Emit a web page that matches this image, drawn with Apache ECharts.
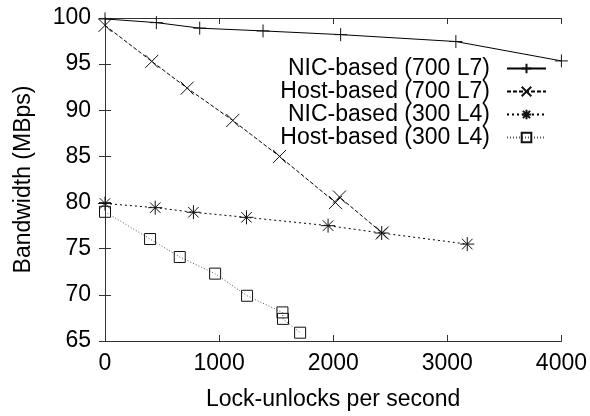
<!DOCTYPE html>
<html>
<head>
<meta charset="utf-8">
<script src="https://cdn.jsdelivr.net/npm/echarts@6/dist/echarts.min.js"></script>
<style>
  html, body { margin: 0; padding: 0; background: #fff; }
  #main { width: 590px; height: 416px; }
</style>
</head>
<body>
<div id="main"></div>
<script>
// series names
var names = ['NIC-based (700 L7)', 'Host-based (700 L7)', 'NIC-based (300 L4)', 'Host-based (300 L4)'];

// values: [lock-unlocks per second, MBps]
var nic700 = [[0, 99.9], [450, 99.5], [830, 98.9], [1385, 98.6], [2065, 98.2], [3075, 97.45], [4000, 95.35]];
var host700 = [[0, 99.2], [410, 95.3], [720, 92.4], [1120, 88.9], [1530, 85.0], [2020, 80.0], [2055, 80.6], [2430, 76.7]];
var nic300 = [[0, 79.9], [440, 79.45], [775, 78.95], [1240, 78.4], [1955, 77.5], [2425, 76.7], [3175, 75.5]];
var host300 = [[0, 79.0], [395, 76.05], [655, 74.1], [965, 72.3], [1245, 69.9], [1555, 68.1], [1560, 67.4], [1710, 65.9]];

var xTicks = { min: 0, max: 4000, step: 1000 };
var yTicks = { min: 65, max: 100, step: 5 };

var FONT = 'Liberation Sans';
var FS = 23;

var chart = echarts.init(document.getElementById('main'));

function mkSeries(name, data, symbol, size, lineType, color, fill) {
  return {
    name: name,
    type: 'line',
    data: data,
    symbol: symbol,
    symbolSize: size,
    clip: false,
    animation: false,
    lineStyle: { color: color, width: 1, type: lineType },
    itemStyle: { color: fill, borderColor: '#111', borderWidth: 1 }
  };
}

var axisCommon = {
  type: 'value',
  axisLine: { show: true, lineStyle: { color: '#333', width: 1 } },
  axisTick: { show: true, inside: true, length: 6, lineStyle: { color: '#333' } },
  splitLine: { show: false }
};

var option = {
  backgroundColor: '#fff',
  textStyle: { fontFamily: FONT },
  grid: { left: 105, right: 24, top: 18, bottom: 72, containLabel: false },
  legend: {
    orient: 'vertical',
    right: 38,
    top: 52,
    align: 'right',
    itemWidth: 39,
    itemHeight: 12,
    itemGap: 0,
    textStyle: { fontFamily: FONT, fontSize: FS, color: '#000', padding: [0, 12, 0, 0] },
    data: names
  },
  xAxis: [
    Object.assign({}, axisCommon, {
      min: xTicks.min, max: xTicks.max, interval: xTicks.step,
      name: 'Lock-unlocks per second',
      nameLocation: 'middle',
      nameGap: 47,
      nameTextStyle: { fontFamily: FONT, fontSize: FS, color: '#000' },
      axisLabel: { fontFamily: FONT, fontSize: FS, color: '#000', margin: 11,
        formatter: function (v) { return String(v); } }
    }),
    Object.assign({}, axisCommon, {
      position: 'top',
      min: xTicks.min, max: xTicks.max, interval: xTicks.step,
      axisLabel: { show: false }
    })
  ],
  yAxis: [
    Object.assign({}, axisCommon, {
      min: yTicks.min, max: yTicks.max, interval: yTicks.step,
      name: 'Bandwidth (MBps)',
      nameLocation: 'middle',
      nameGap: 70,
      nameRotate: 90,
      nameTextStyle: { fontFamily: FONT, fontSize: FS, color: '#000' },
      axisLabel: { fontFamily: FONT, fontSize: FS, color: '#000', margin: 14 }
    }),
    Object.assign({}, axisCommon, {
      position: 'right',
      min: yTicks.min, max: yTicks.max, interval: yTicks.step,
      axisLabel: { show: false }
    })
  ],
  series: [
    mkSeries(names[0], nic700, 'path://M0,6H12M6,0V12', 13, 'solid', '#000', '#000'),
    mkSeries(names[1], host700, 'path://M0,0L12,12M12,0L0,12', 13, [4, 2], '#000', '#000'),
    mkSeries(names[2], nic300, 'path://M0,6H12M6,0V12M1.5,1.5L10.5,10.5M10.5,1.5L1.5,10.5', 14, [2, 3], '#000', '#000'),
    mkSeries(names[3], host300, 'path://M0,0H10V10H0Z', 11, [1, 2], '#555', 'rgba(0,0,0,0)')
  ]
};

chart.setOption(option);
</script>
</body>
</html>
